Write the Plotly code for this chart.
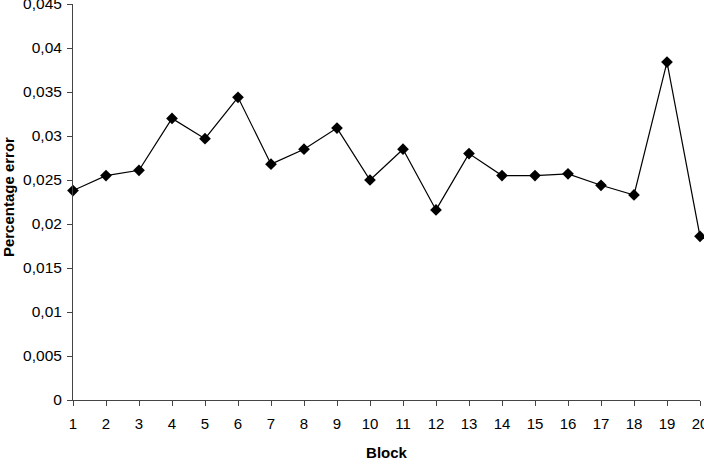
import plotly.graph_objects as go

blocks = list(range(1, 21))
pct_error = [0.0238, 0.0255, 0.0261, 0.0320, 0.0297, 0.0344, 0.0268, 0.0285, 0.0309, 0.0250,
             0.0285, 0.0216, 0.0280, 0.0255, 0.0255, 0.0257, 0.0244, 0.0233, 0.0384, 0.0186]
y_tickvals = [0, 0.005, 0.01, 0.015, 0.02, 0.025, 0.03, 0.035, 0.04, 0.045]
y_ticktext = ["0", "0,005", "0,01", "0,015", "0,02", "0,025", "0,03", "0,035", "0,04", "0,045"]

fig = go.Figure()
fig.add_trace(go.Scatter(
    x=blocks, y=pct_error, mode="lines+markers",
    line=dict(color="black", width=1.2),
    marker=dict(symbol="diamond", size=9, color="black"),
    cliponaxis=False, showlegend=False,
))

font = dict(family="Liberation Sans, Arial, sans-serif", size=15, color="black")
yfont = dict(family="Liberation Sans, Arial, sans-serif", size=15.5, color="black")
title_font = dict(family="Liberation Sans, Arial, sans-serif", size=15, color="black")
fig.update_layout(
    width=704, height=466,
    margin=dict(l=73, r=4, t=4, b=66),
    plot_bgcolor="white", paper_bgcolor="white",
    font=font,
    xaxis=dict(
        range=[1, 20], tickvals=blocks, ticks="outside", ticklen=5, tickcolor="#444",
        showline=True, linecolor="#444", linewidth=1, showgrid=False, zeroline=False,
        tickfont=font, ticklabeloverflow="allow", ticklabelstandoff=5, automargin=False,
        title=dict(text="<b>Block</b>", font=title_font, standoff=16),
    ),
    yaxis=dict(
        range=[0, 0.045], tickvals=y_tickvals, ticktext=y_ticktext, ticks="outside", ticklen=5,
        tickcolor="#444", showline=True, linecolor="#444", linewidth=1, showgrid=False, zeroline=False,
        tickfont=yfont, ticklabeloverflow="allow", ticklabelstandoff=2, automargin=False,
    ),
    annotations=[dict(
        text="<b>Percentage error</b>", textangle=-90, font=title_font,
        xref="paper", yref="paper", x=-0.1035, y=0.5126,
        xanchor="center", yanchor="middle", showarrow=False,
    )],
)
fig.write_html("out.html")
